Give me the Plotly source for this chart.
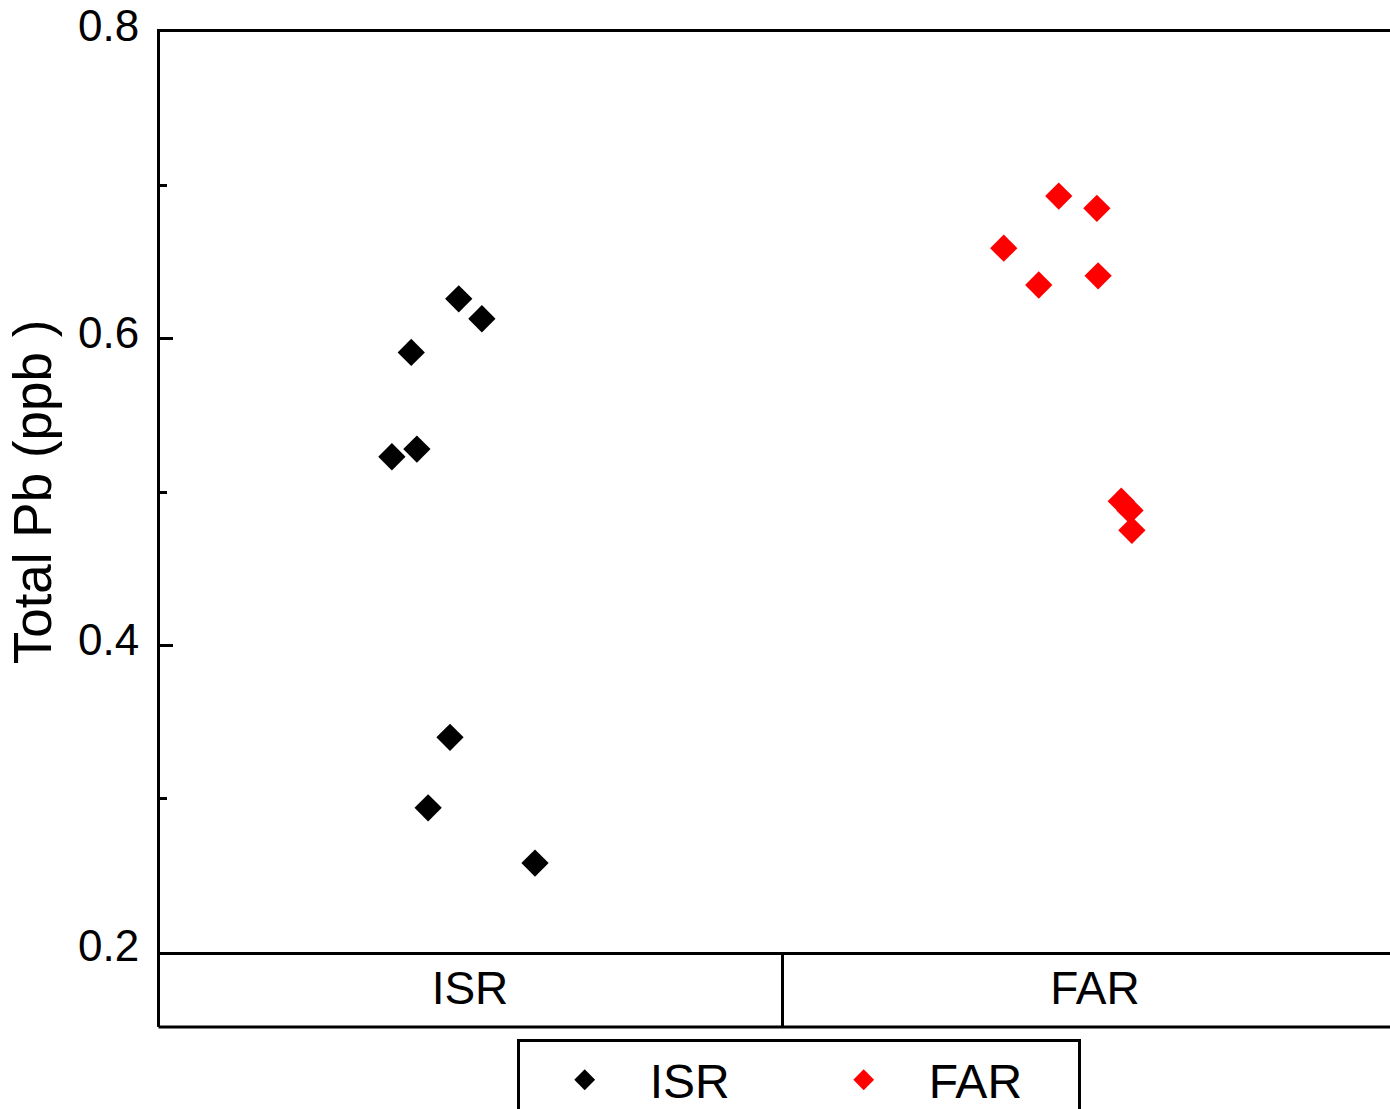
import plotly.graph_objects as go

# ---- data ----
categories = ["ISR", "FAR"]
isr_jitter = [-0.018, 0.019, -0.094, -0.125, -0.085, -0.032, -0.067, 0.104]
isr_values = [0.626, 0.613, 0.591, 0.523, 0.528, 0.340, 0.294, 0.258]
far_jitter = [-0.058, 0.003, -0.146, -0.090, 0.005, 0.042, 0.056, 0.059]
far_values = [0.693, 0.685, 0.659, 0.635, 0.641, 0.494, 0.488, 0.475]
y_ticks = [0.2, 0.4, 0.6, 0.8]

FONT = "Liberation Sans, Arial, sans-serif"

isr_x = [0 + j for j in isr_jitter]
far_x = [1 + j for j in far_jitter]

fig = go.Figure()
fig.add_trace(go.Scatter(
    x=isr_x, y=isr_values, mode="markers", name="ISR",
    marker=dict(symbol="diamond", size=21, color="black", line=dict(width=0)),
))
fig.add_trace(go.Scatter(
    x=far_x, y=far_values, mode="markers", name="FAR",
    marker=dict(symbol="diamond", size=21, color="#ff0000", line=dict(width=0)),
))

fig.update_layout(
    width=1390, height=1109,
    margin=dict(l=160, r=0, t=32, b=157, autoexpand=False),
    paper_bgcolor="white", plot_bgcolor="white",
    font=dict(family=FONT, color="black"),
    showlegend=True,
    legend=dict(
        orientation="h", x=0.290, y=-0.0946, xanchor="left", yanchor="top",
        bordercolor="black", borderwidth=3, bgcolor="white",
        font=dict(family=FONT, size=48, color="black"),
        itemwidth=120, entrywidth=144, entrywidthmode="pixels",
    ),
    xaxis=dict(
        range=[-0.496, 1.472], showgrid=False, zeroline=False,
        showline=True, linewidth=3, linecolor="black", mirror=True,
        ticks="", tickvals=[0, 1], ticktext=categories,
        tickfont=dict(family=FONT, size=46, color="black"),
        ticklabelstandoff=-6,
    ),
    yaxis=dict(
        range=[0.2, 0.8], showgrid=False, zeroline=False,
        showline=True, linewidth=3, linecolor="black", mirror=False,
        ticks="inside", ticklen=13, tickwidth=3, tickcolor="black",
        tickvals=y_ticks, tickformat=".1f",
        tickfont=dict(family=FONT, size=44, color="black"),
        ticklabelstandoff=9, ticklabelshift=-6,
        minor=dict(ticks="inside", ticklen=7, tickwidth=3, tickcolor="black", dtick=0.1),
        title=dict(text="Total Pb (ppb )", font=dict(family=FONT, size=53, color="black"), standoff=10),
    ),
)

box_bottom = -0.0815
fig.add_shape(type="line", xref="paper", yref="paper", x0=-0.0012, x1=-0.0012, y0=0, y1=box_bottom,
              line=dict(color="black", width=3))
fig.add_shape(type="line", xref="paper", yref="paper", x0=-0.0012, x1=1.0, y0=box_bottom, y1=box_bottom,
              line=dict(color="black", width=3))
fig.add_shape(type="line", xref="x", yref="paper", x0=0.5, x1=0.5, y0=0, y1=box_bottom,
              line=dict(color="black", width=3))

fig.write_html("out.html")
